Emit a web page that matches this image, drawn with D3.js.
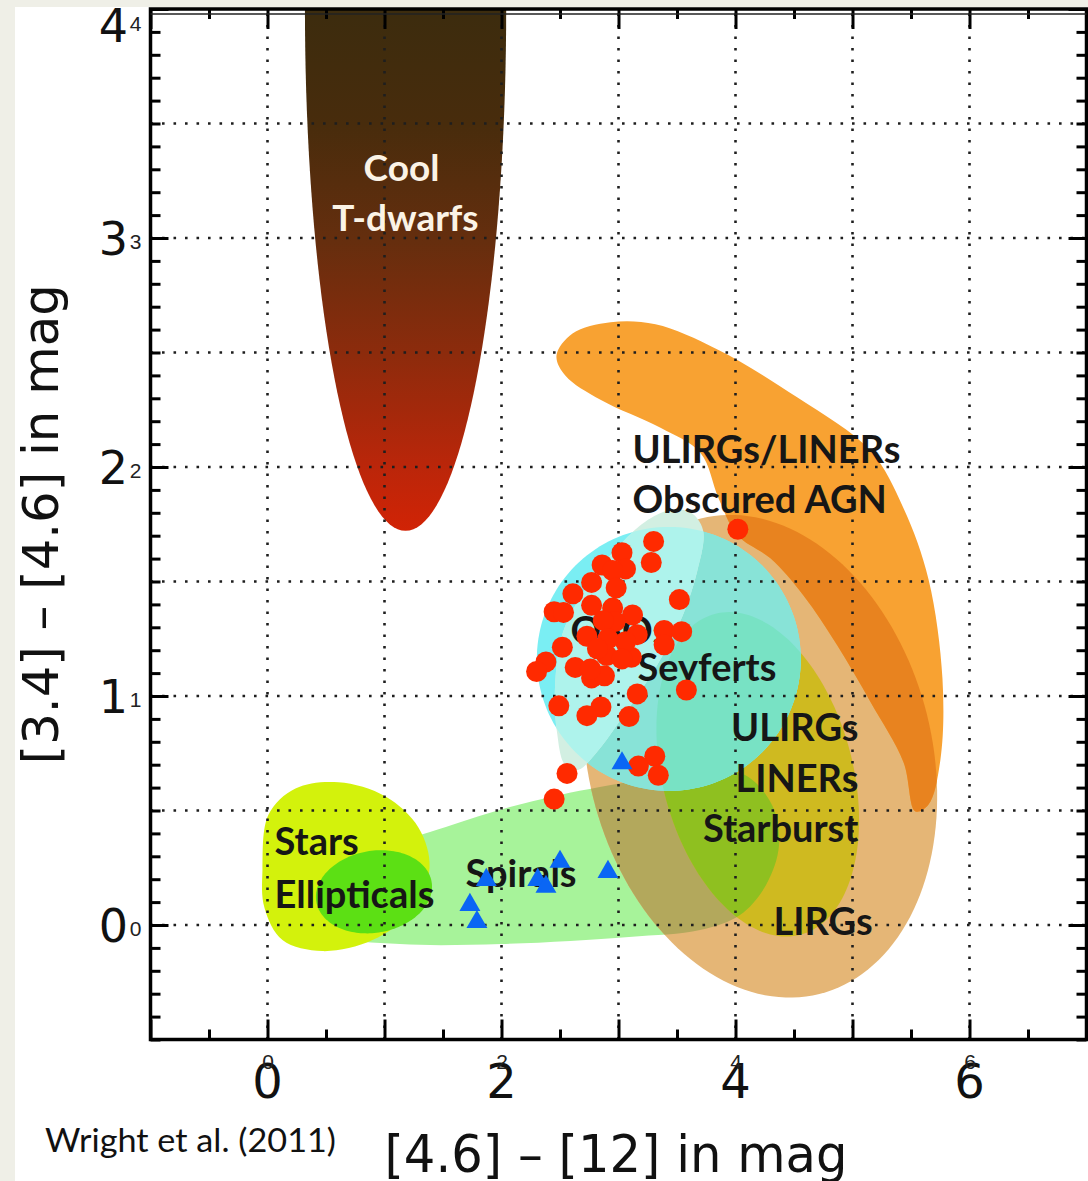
<!DOCTYPE html>
<html>
<head>
<meta charset="utf-8">
<script src="https://cdn.jsdelivr.net/npm/d3@7"></script>
<style>
  body { margin: 0; background: #efefe7; }
  svg { display: block; }
</style>
</head>
<body>
<div id="chart"></div>
<script>
// red dots: AGN sample
const agnX = [4.02, 3.30, 3.28, 3.03, 2.86, 3.06, 2.95, 2.77, 2.98, 2.61, 3.52, 2.77, 2.45, 2.53, 2.95, 3.12,
  3.39, 3.54, 3.39, 3.16, 2.73, 2.52, 3.11, 2.90, 2.63, 2.38, 2.30, 2.77, 2.88, 3.58, 3.16, 2.49,
  2.85, 2.73, 3.09, 3.31, 3.17, 3.34, 2.56, 2.45, 2.97, 2.87, 3.06, 2.91, 2.76, 3.03, 2.82];
const agnY = [1.728, 1.675, 1.583, 1.626, 1.572, 1.555, 1.548, 1.496, 1.472, 1.446, 1.421, 1.396, 1.368, 1.365, 1.384, 1.354,
  1.286, 1.281, 1.224, 1.268, 1.261, 1.213, 1.169, 1.177, 1.125, 1.149, 1.107, 1.079, 1.088, 1.026, 1.009, 0.957,
  0.952, 0.914, 0.910, 0.737, 0.694, 0.654, 0.662, 0.550, 1.325, 1.329, 1.237, 1.25, 1.118, 1.162, 1.206];

// blue triangles: galaxy sample
const galX = [3.03, 2.50, 2.91, 2.31, 2.38, 1.87, 1.73, 1.79];
const galY = [0.706, 0.276, 0.232, 0.197, 0.167, 0.197, 0.088, 0.013];

// elliptical regions (centre in data units, semi axes in x units, angle in screen degrees)
const tdwarfRegion = { cx: 1.18, cy: 4.0, a: 0.86, b: 4.46, angle: 0 };
const lirgRegion = { cx: 4.21, cy: 0.737, a: 2.094, b: 1.47, angle: 76 };
const starburstRegion = { cx: 4.19, cy: 0.658, a: 1.419, b: 0.812, angle: 75 };
const seyfertRegion = { cx: 3.43, cy: 1.162, a: 1.128, b: 1.128, angle: 0 };
const ellipticalRegion = { cx: 0.91, cy: 0.145, a: 0.5, b: 0.35, angle: -10 };

// free-form outlines
const obscuredOutline = [[2.470, 2.487], [2.607, 2.583], [2.932, 2.632], [3.316, 2.623], [3.846, 2.513], [4.530, 2.303],
  [5.154, 2.070], [5.436, 1.820], [5.650, 1.509], [5.769, 1.075], [5.752, 0.724], [5.650, 0.526], [5.538, 0.496],
  [5.436, 0.711], [5.154, 0.974], [4.872, 1.219], [4.581, 1.439], [4.299, 1.601], [4.017, 1.702], [3.855, 1.864],
  [3.701, 2.061], [3.359, 2.171], [2.846, 2.294], [2.547, 2.399]];
const starsOutline = [[-0.043, 0.241], [0.009, 0.482], [0.239, 0.596], [0.607, 0.623], [1.009, 0.561], [1.291, 0.425],
  [1.385, 0.250], [1.239, 0.066], [0.897, -0.066], [0.470, -0.114], [0.128, -0.066], [-0.026, 0.075]];
const spiralOutline = [[0.278, 0.066], [0.534, 0.231], [0.962, 0.336], [1.389, 0.406], [1.953, 0.498], [2.500, 0.568],
  [3.184, 0.633], [3.697, 0.677], [4.081, 0.655], [4.312, 0.524], [4.372, 0.349], [4.261, 0.175], [4.038, 0.044],
  [3.697, -0.022], [3.090, -0.052], [1.996, -0.083], [1.132, -0.083], [0.534, -0.044]];
const qsoOutline = [[3.611, 1.803], [3.722, 1.725], [3.671, 1.541], [3.551, 1.354], [3.380, 1.179], [3.184, 1.017],
  [2.987, 0.873], [2.816, 0.755], [2.654, 0.677], [2.543, 0.699], [2.474, 0.843], [2.457, 1.035], [2.526, 1.279],
  [2.756, 1.498], [2.987, 1.646], [3.226, 1.760], [3.440, 1.812]];

// region labels
const labelText = ["ULIRGs/LINERs", "Obscured AGN", "QSOs", "Seyferts", "ULIRGs", "LINERs", "Starburst", "LIRGs",
  "Stars", "Ellipticals", "Spirals"];
const labelX = [3.12, 3.12, 2.59, 3.162, 5.051, 5.051, 5.051, 4.325, 0.06, 0.06, 1.692];
const labelY = [2.018, 1.798, 1.228, 1.066, 0.803, 0.579, 0.364, -0.044, 0.307, 0.075, 0.167];
const labelAnchor = ["start", "start", "start", "start", "end", "end", "end", "start", "start", "start", "start"];

const xTicks = [0, 2, 4, 6];
const yTicks = [0, 1, 2, 3, 4];

const width = 1088;
const height = 1181;

const x = d3.scaleLinear().domain([-1, 7]).range([150.5, 1086.5]);
const y = d3.scaleLinear().domain([-0.5, 4]).range([1039.5, 9]);

const svg = d3.select("#chart").append("svg")
  .attr("width", width)
  .attr("height", height);

svg.append("rect").attr("x", 15).attr("y", 7).attr("width", width - 15).attr("height", height - 7).attr("fill", "#fff");

const defs = svg.append("defs");

// ellipse in data space: offsets computed on screen proportions, then mapped back through the scales
function ellipsePoints(e, n = 160) {
  const k = (x(1) - x(0)) / (y(0) - y(1));
  const th = e.angle * Math.PI / 180;
  return d3.range(n).map((i) => {
    const t = (i / n) * 2 * Math.PI;
    const dx = e.a * Math.cos(t) * Math.cos(th) - e.b * Math.sin(t) * Math.sin(th);
    const dy = e.a * Math.cos(t) * Math.sin(th) + e.b * Math.sin(t) * Math.cos(th);
    return [e.cx + dx, e.cy - dy * k];
  });
}

const poly = d3.line().x((d) => x(d[0])).y((d) => y(d[1])).curve(d3.curveLinearClosed);
const blob = d3.line().x((d) => x(d[0])).y((d) => y(d[1])).curve(d3.curveCatmullRomClosed);

const shapes = {
  tdwarf: poly(ellipsePoints(tdwarfRegion)),
  lirg: poly(ellipsePoints(lirgRegion)),
  starburst: poly(ellipsePoints(starburstRegion)),
  seyfert: poly(ellipsePoints(seyfertRegion)),
  elliptical: poly(ellipsePoints(ellipticalRegion)),
  spiral: blob(spiralOutline),
  qso: blob(qsoOutline),
  obscured: blob(obscuredOutline),
  stars: blob(starsOutline),
};

Object.entries(shapes).forEach(([key, d]) => {
  defs.append("clipPath").attr("id", `clip-${key}`).append("path").attr("d", d);
});

defs.append("clipPath").attr("id", "clip-plot")
  .append("rect")
  .attr("x", x(-1)).attr("y", y(4))
  .attr("width", x(7) - x(-1)).attr("height", y(-0.5) - y(4));

const grad = defs.append("linearGradient")
  .attr("id", "tdwarf-grad")
  .attr("gradientUnits", "userSpaceOnUse")
  .attr("x1", 0).attr("x2", 0)
  .attr("y1", y(4)).attr("y2", y(1.71));
[[0, "#3c2c0e"], [0.22, "#482c0c"], [0.44, "#652e0e"], [0.66, "#8d2b0c"], [0.87, "#ba260a"], [1, "#d22305"]]
  .forEach(([o, c]) => grad.append("stop").attr("offset", o).attr("stop-color", c));

const regions = svg.append("g").attr("clip-path", "url(#clip-plot)");

function drawShape(key, fill, clips = []) {
  let g = regions;
  clips.forEach((c) => { g = g.append("g").attr("clip-path", `url(#clip-${c})`); });
  g.append("path").attr("d", shapes[key]).attr("fill", fill);
}

drawShape("spiral", "#a7f39a");
drawShape("lirg", "#e5b676");
drawShape("spiral", "#b3a85c", ["lirg"]);
drawShape("starburst", "#cfba20", ["lirg"]);
drawShape("starburst", "#8fc020", ["lirg", "spiral"]);
drawShape("stars", "#d3f20c");
drawShape("elliptical", "#5ce014");
drawShape("obscured", "#f8a232");
drawShape("lirg", "#e8831f", ["obscured"]);
drawShape("seyfert", "#7aeef3");
drawShape("lirg", "#88e3d7", ["seyfert"]);
drawShape("starburst", "#78e2c4", ["seyfert"]);
drawShape("qso", "#d2efe2");
drawShape("qso", "#aef3ec", ["seyfert"]);
drawShape("tdwarf", "url(#tdwarf-grad)");

// dotted grid
const grid = svg.append("g")
  .attr("stroke", "#1e1e1e")
  .attr("stroke-width", 2.6)
  .attr("stroke-dasharray", "2.6 8.9");

grid.selectAll(".vgrid")
  .data(d3.range(0, 7))
  .join("line")
  .attr("x1", (d) => x(d)).attr("x2", (d) => x(d))
  .attr("y1", y(-0.5)).attr("y2", y(4));

grid.selectAll(".hgrid")
  .data(d3.range(0, 4, 0.5))
  .join("line")
  .attr("x1", x(-1)).attr("x2", x(7))
  .attr("y1", (d) => y(d)).attr("y2", (d) => y(d));

// region labels
svg.append("g")
  .attr("font-family", "Lato, 'Open Sans', sans-serif")
  .attr("font-weight", 700)
  .attr("font-size", 38)
  .attr("fill", "#161616")
  .selectAll("text")
  .data(labelText)
  .join("text")
  .attr("x", (d, i) => x(labelX[i]))
  .attr("y", (d, i) => y(labelY[i]))
  .attr("text-anchor", (d, i) => labelAnchor[i])
  .text((d) => d);

svg.append("g")
  .attr("font-family", "Lato, 'Open Sans', sans-serif")
  .attr("font-weight", 700)
  .attr("font-size", 37)
  .attr("fill", "#fbf3e6")
  .attr("text-anchor", "middle")
  .selectAll("text")
  .data([["Cool", 1.145, 3.25], ["T-dwarfs", 1.179, 3.031]])
  .join("text")
  .attr("x", (d) => x(d[1]))
  .attr("y", (d) => y(d[2]))
  .text((d) => d[0]);

// samples
svg.append("g")
  .selectAll("circle")
  .data(agnX)
  .join("circle")
  .attr("cx", (d) => x(d))
  .attr("cy", (d, i) => y(agnY[i]))
  .attr("r", 10.5)
  .attr("fill", "#ff2a00");

svg.append("g")
  .selectAll("path")
  .data(galX)
  .join("path")
  .attr("d", d3.symbol(d3.symbolTriangle, 190))
  .attr("transform", (d, i) => `translate(${x(d)},${y(galY[i])})`)
  .attr("fill", "#0a66f4");

// frame and inward ticks
const frame = svg.append("g");

function ticks(axis, values, size, transform) {
  frame.append("g")
    .attr("transform", transform)
    .call(axis.tickValues(values).tickSize(-size).tickFormat(""))
    .call((g) => g.select(".domain").remove())
    .call((g) => g.selectAll(".tick line").attr("stroke", "#000").attr("stroke-width", 3));
}

const halfSteps = d3.range(-1, 7.01, 0.5).filter((d) => d % 1 !== 0);
const wholeSteps = d3.range(-1, 7.01, 1);
const tenthSteps = d3.range(-5, 41).map((d) => d / 10).filter((d) => Math.abs(d - Math.round(d)) > 1e-6);
const unitSteps = d3.range(0, 5);

ticks(d3.axisBottom(x), halfSteps, 10, `translate(0,${y(-0.5)})`);
ticks(d3.axisBottom(x), wholeSteps, 20, `translate(0,${y(-0.5)})`);
ticks(d3.axisTop(x), halfSteps, 10, `translate(0,${y(4)})`);
ticks(d3.axisTop(x), wholeSteps, 20, `translate(0,${y(4)})`);
ticks(d3.axisLeft(y), tenthSteps, 10, `translate(${x(-1)},0)`);
ticks(d3.axisLeft(y), unitSteps, 18, `translate(${x(-1)},0)`);
ticks(d3.axisRight(y), tenthSteps, 10, `translate(${x(7)},0)`);
ticks(d3.axisRight(y), unitSteps, 18, `translate(${x(7)},0)`);

frame.append("rect")
  .attr("x", x(-1)).attr("y", y(4))
  .attr("width", x(7) - x(-1)).attr("height", y(-0.5) - y(4))
  .attr("fill", "none")
  .attr("stroke", "#000")
  .attr("stroke-width", 3.5);

frame.append("line")
  .attr("x1", x(-1)).attr("x2", x(7))
  .attr("y1", y(4) + 5).attr("y2", y(4) + 5)
  .attr("stroke", "#222")
  .attr("stroke-width", 1.5);

// big tick numbers
const bigFont = "'DejaVu Sans', sans-serif";
svg.append("g")
  .attr("font-family", bigFont)
  .attr("font-size", 46)
  .attr("fill", "#111")
  .attr("text-anchor", "end")
  .selectAll("text")
  .data(yTicks)
  .join("text")
  .attr("x", 128)
  .attr("y", (d) => Math.max(y(d), 25))
  .attr("dy", "0.36em")
  .text((d) => d);

svg.append("g")
  .attr("font-family", bigFont)
  .attr("font-size", 48)
  .attr("fill", "#111")
  .attr("text-anchor", "middle")
  .selectAll("text")
  .data(xTicks)
  .join("text")
  .attr("x", (d) => x(d))
  .attr("y", 1098)
  .text((d) => d);

// small overlaid axis labels
svg.append("g")
  .attr("transform", `translate(${x(-1)},4)`)
  .call(d3.axisLeft(y).tickValues(yTicks).tickSize(0).tickPadding(9).tickFormat(d3.format("d")))
  .call((g) => g.select(".domain").remove())
  .call((g) => g.selectAll("text")
    .attr("font-family", "'Liberation Sans', sans-serif")
    .attr("font-size", 21)
    .attr("fill", "#222")
    .attr("y", (d) => (d === 4 ? 11 : 0)));

svg.append("g")
  .attr("transform", `translate(0,${y(-0.5)})`)
  .call(d3.axisBottom(x).tickValues(xTicks).tickSize(0).tickPadding(15).tickFormat(d3.format("d")))
  .call((g) => g.select(".domain").remove())
  .call((g) => g.selectAll("text")
    .attr("font-family", "'Liberation Sans', sans-serif")
    .attr("font-size", 21)
    .attr("fill", "#222"));

// axis titles
svg.append("text")
  .attr("transform", `translate(58,${(y(1.85) + y(1.65)) / 2}) rotate(-90)`)
  .attr("text-anchor", "middle")
  .attr("font-family", bigFont)
  .attr("font-size", 50)
  .attr("textLength", 480)
  .attr("lengthAdjust", "spacingAndGlyphs")
  .attr("fill", "#111")
  .text("[3.4] \u2013 [4.6] in mag");

svg.append("text")
  .attr("x", 616)
  .attr("y", 1172)
  .attr("text-anchor", "middle")
  .attr("font-family", bigFont)
  .attr("font-size", 52)
  .attr("textLength", 463)
  .attr("lengthAdjust", "spacingAndGlyphs")
  .attr("fill", "#111")
  .text("[4.6] \u2013 [12] in mag");

svg.append("text")
  .attr("x", 45)
  .attr("y", 1152)
  .attr("font-family", "Lato, 'Open Sans', sans-serif")
  .attr("font-size", 33)
  .attr("textLength", 291)
  .attr("lengthAdjust", "spacingAndGlyphs")
  .attr("fill", "#111")
  .text("Wright et al. (2011)");
</script>
</body>
</html>
